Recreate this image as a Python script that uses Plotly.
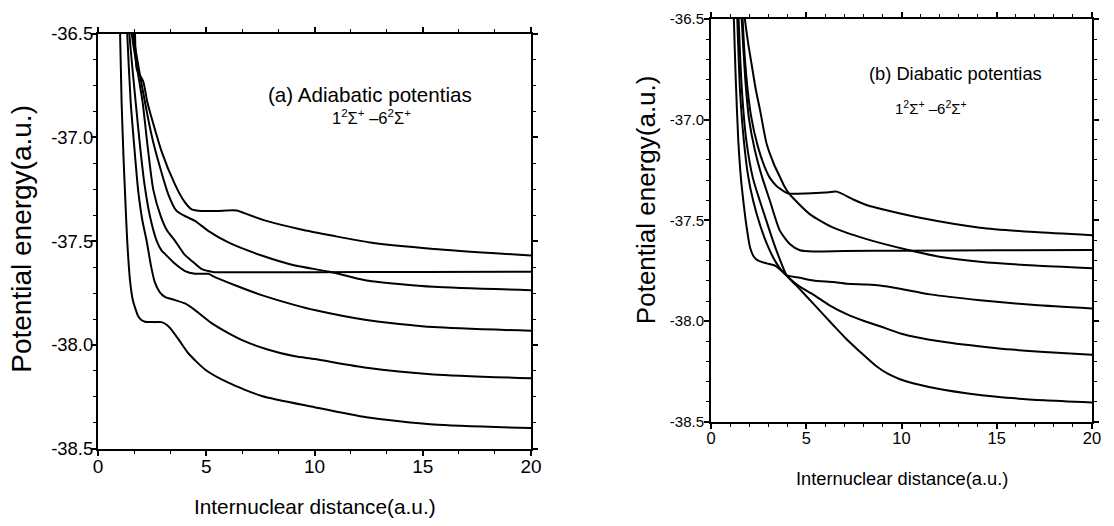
import plotly.graph_objects as go

# ---- adiabatic curves (panel a): internuclear distance r (a.u.) vs energy (a.u.)
adia_1_r = [0.97, 1.02, 1.09, 1.18, 1.27, 1.35, 1.48, 1.60, 1.71, 1.86, 2.00, 2.17, 2.60, 2.94, 3.20, 3.40, 3.80, 4.17, 4.94, 6.02, 7.56, 10.0, 12.4, 15.5, 20.0]
adia_1_e = [-36.35, -36.50, -36.83, -37.10, -37.32, -37.50, -37.69, -37.78, -37.82, -37.862, -37.880, -37.888, -37.890, -37.890, -37.905, -37.927, -37.985, -38.040, -38.118, -38.182, -38.246, -38.300, -38.349, -38.384, -38.401]

adia_2_r = [1.30, 1.35, 1.51, 1.68, 1.86, 2.05, 2.25, 2.45, 2.63, 2.85, 3.09, 3.56, 4.02, 4.48, 5.25, 6.02, 6.79, 7.87, 9.10, 10.0, 12.4, 15.5, 20.0]
adia_2_e = [-36.35, -36.50, -36.83, -37.05, -37.26, -37.40, -37.50, -37.62, -37.70, -37.745, -37.768, -37.784, -37.800, -37.832, -37.895, -37.943, -37.983, -38.023, -38.055, -38.068, -38.110, -38.142, -38.161]

adia_3_r = [1.40, 1.45, 1.74, 1.95, 2.14, 2.40, 2.71, 2.94, 3.09, 3.56, 4.02, 4.48, 5.10, 5.40, 6.33, 7.56, 9.10, 10.0, 12.4, 15.5, 20.0]
adia_3_e = [-36.35, -36.50, -36.83, -37.05, -37.22, -37.38, -37.498, -37.545, -37.561, -37.609, -37.644, -37.657, -37.657, -37.673, -37.712, -37.760, -37.808, -37.832, -37.880, -37.914, -37.932]

adia_4_r = [1.58, 1.63, 2.17, 2.50, 2.79, 3.25, 3.63, 4.10, 4.48, 5.09, 6.02, 7.56, 9.10, 10.7, 12.4, 15.5, 20.0]
adia_4_e = [-36.35, -36.50, -36.83, -37.00, -37.116, -37.275, -37.354, -37.383, -37.402, -37.450, -37.506, -37.569, -37.617, -37.647, -37.689, -37.720, -37.736]

adia_5_r = [1.51, 1.56, 2.06, 2.30, 2.55, 2.90, 3.20, 3.56, 4.00, 4.39, 4.80, 5.30, 6.0, 10.0, 15.0, 20.0]
adia_5_e = [-36.35, -36.50, -36.83, -37.05, -37.25, -37.38, -37.45, -37.498, -37.565, -37.600, -37.635, -37.648, -37.650, -37.649, -37.648, -37.647]

adia_6_r = [1.68, 1.71, 1.79, 2.09, 2.28, 2.94, 3.56, 4.00, 4.33, 4.79, 5.5, 6.40, 6.94, 7.78, 9.33, 10.87, 12.57, 15.5, 20.0]
adia_6_e = [-36.40, -36.50, -36.67, -36.73, -36.83, -37.068, -37.227, -37.310, -37.346, -37.354, -37.354, -37.352, -37.372, -37.402, -37.442, -37.474, -37.506, -37.537, -37.569]

# ---- diabatic curves (panel b)
dia_1_r = [1.40, 1.45, 1.62, 1.85, 2.20, 2.57, 2.90, 3.25, 3.60, 3.97, 4.50, 5.37, 6.42, 7.12, 7.80, 8.70, 9.30, 9.92, 10.6, 12.2, 15.0, 17.5, 20.0]
dia_1_e = [-36.35, -36.50, -36.85, -37.10, -37.29, -37.405, -37.50, -37.60, -37.69, -37.773, -37.825, -37.913, -38.02, -38.09, -38.15, -38.225, -38.262, -38.288, -38.308, -38.34, -38.375, -38.393, -38.404]

dia_2_r = [1.33, 1.38, 1.52, 1.72, 1.95, 2.22, 2.60, 2.95, 3.30, 3.60, 3.97, 4.60, 5.37, 6.20, 7.12, 8.00, 8.87, 10.0, 12.0, 15.0, 17.5, 20.0]
dia_2_e = [-36.35, -36.50, -36.85, -37.10, -37.28, -37.405, -37.53, -37.62, -37.69, -37.735, -37.773, -37.825, -37.868, -37.920, -37.965, -37.998, -38.025, -38.062, -38.100, -38.134, -38.153, -38.167]

dia_3_r = [1.16, 1.20, 1.30, 1.43, 1.58, 1.70, 1.85, 2.05, 2.25, 2.48, 2.92, 3.36, 3.70, 3.97, 4.67, 5.37, 6.42, 7.12, 8.17, 8.87, 9.92, 11.5, 14.12, 17.0, 20.0]
dia_3_e = [-36.35, -36.50, -36.80, -37.10, -37.30, -37.405, -37.52, -37.634, -37.68, -37.700, -37.713, -37.724, -37.750, -37.773, -37.785, -37.798, -37.806, -37.814, -37.818, -37.823, -37.839, -37.867, -37.896, -37.920, -37.937]

dia_4_r = [1.75, 1.78, 1.95, 2.14, 2.35, 2.57, 2.92, 3.30, 3.62, 3.85, 4.06, 4.32, 5.20, 6.42, 8.17, 10.36, 12.0, 14.12, 17.0, 20.0]
dia_4_e = [-36.40, -36.50, -36.62, -36.73, -36.85, -36.95, -37.12, -37.22, -37.285, -37.33, -37.362, -37.390, -37.470, -37.536, -37.593, -37.647, -37.680, -37.705, -37.724, -37.737]

dia_5_r = [1.56, 1.61, 1.80, 2.00, 2.30, 2.70, 3.10, 3.62, 4.15, 4.67, 5.37, 7.0, 10.0, 15.0, 20.0]
dia_5_e = [-36.35, -36.50, -36.80, -37.00, -37.15, -37.29, -37.405, -37.552, -37.618, -37.648, -37.654, -37.652, -37.650, -37.648, -37.647]

dia_6_r = [1.62, 1.66, 1.85, 2.10, 2.45, 2.80, 3.10, 3.45, 3.62, 3.85, 4.06, 5.00, 6.00, 6.60, 7.47, 8.20, 9.05, 10.97, 14.12, 17.0, 20.0]
dia_6_e = [-36.35, -36.50, -36.78, -36.98, -37.13, -37.23, -37.29, -37.33, -37.342, -37.357, -37.366, -37.366, -37.362, -37.357, -37.396, -37.425, -37.446, -37.487, -37.536, -37.558, -37.573]

# ---- ticks / labels
x_ticks = [0, 5, 10, 15, 20]
y_ticks = [-38.5, -38.0, -37.5, -37.0, -36.5]
y_tick_text = ["-38.5", "-38.0", "-37.5", "-37.0", "-36.5"]

W, H = 1114, 526
FONT = "Liberation Sans, Arial, sans-serif"

# the page is drawn inside the body margin, so map reference pixels onto that area
def fx(p):
    return (p - 5) / 1098


def fy(p):
    return 1 - (p - 8) / 510


def axis(domain, anchor, rng, ticks, minor, size, standoff, text=None):
    ax = dict(domain=domain, anchor=anchor, range=rng, showgrid=False, zeroline=False,
              showline=True, linecolor="black", linewidth=2, mirror="ticks",
              ticks="outside", ticklen=5, tickwidth=1.5, tickcolor="black",
              tickmode="array", tickvals=ticks, ticklabelstandoff=standoff,
              tickfont=dict(family=FONT, size=size, color="black"),
              minor=dict(dtick=minor, tick0=rng[0], ticks="outside", ticklen=3,
                         tickwidth=1.2, tickcolor="black", showgrid=False))
    if text is not None:
        ax["ticktext"] = text
    return ax


def main():
    fig = go.Figure()
    line = dict(color="black", width=2, shape="spline", smoothing=0.6)
    for r, e in [(adia_1_r, adia_1_e), (adia_2_r, adia_2_e), (adia_3_r, adia_3_e),
                 (adia_4_r, adia_4_e), (adia_5_r, adia_5_e), (adia_6_r, adia_6_e)]:
        fig.add_trace(go.Scatter(x=r, y=e, mode="lines", line=line, showlegend=False,
                                 xaxis="x", yaxis="y"))
    for r, e in [(dia_1_r, dia_1_e), (dia_2_r, dia_2_e), (dia_3_r, dia_3_e),
                 (dia_4_r, dia_4_e), (dia_5_r, dia_5_e), (dia_6_r, dia_6_e)]:
        fig.add_trace(go.Scatter(x=r, y=e, mode="lines", line=line, showlegend=False,
                                 xaxis="x2", yaxis="y2"))

    fig.update_layout(
        width=W, height=H, margin=dict(l=0, r=0, t=0, b=0),
        plot_bgcolor="white", paper_bgcolor="white",
        xaxis=axis([fx(98), fx(531)], "y", [0, 20], x_ticks, 5 / 3, 19, -5),
        yaxis=axis([fy(450), fy(31)], "x", [-38.5, -36.5], y_ticks, 0.125, 18.5, -6, y_tick_text),
        xaxis2=axis([fx(711), fx(1092)], "y2", [0, 20], x_ticks, 1, 16.5, -5),
        yaxis2=axis([fy(423), fy(16)], "x2", [-38.5, -36.5], y_ticks, 0.1, 15, -3, y_tick_text),
    )

    notes = [
        ("(a) Adiabatic potentias", 370, 92, 20.6, 0),
        ("1<sup>2</sup>Σ<sup>+</sup> –6<sup>2</sup>Σ<sup>+</sup>", 371, 115, 16.5, 0),
        ("Internuclear distance(a.u.)", 315, 508, 20.8, 0),
        ("Potential energy(a.u.)", 22, 238, 28, -90),
        ("(b) Diabatic potentias", 955, 71, 18.3, 0),
        ("1<sup>2</sup>Σ<sup>+</sup> –6<sup>2</sup>Σ<sup>+</sup>", 931, 105, 15, 0),
        ("Internuclear distance(a.u.)", 902, 480, 18.3, 0),
        ("Potential energy(a.u.)", 646, 199, 26, -90),
    ]
    for text, x, y, size, ang in notes:
        fig.add_annotation(text=text, xref="paper", yref="paper", x=fx(x), y=fy(y),
                           xanchor="center", yanchor="middle", showarrow=False,
                           textangle=ang, font=dict(family=FONT, size=size, color="black"))

    fig.write_html("out.html", config={"displayModeBar": False},
                   post_script="document.body.style.margin='0';")


if __name__ == "__main__":
    main()
